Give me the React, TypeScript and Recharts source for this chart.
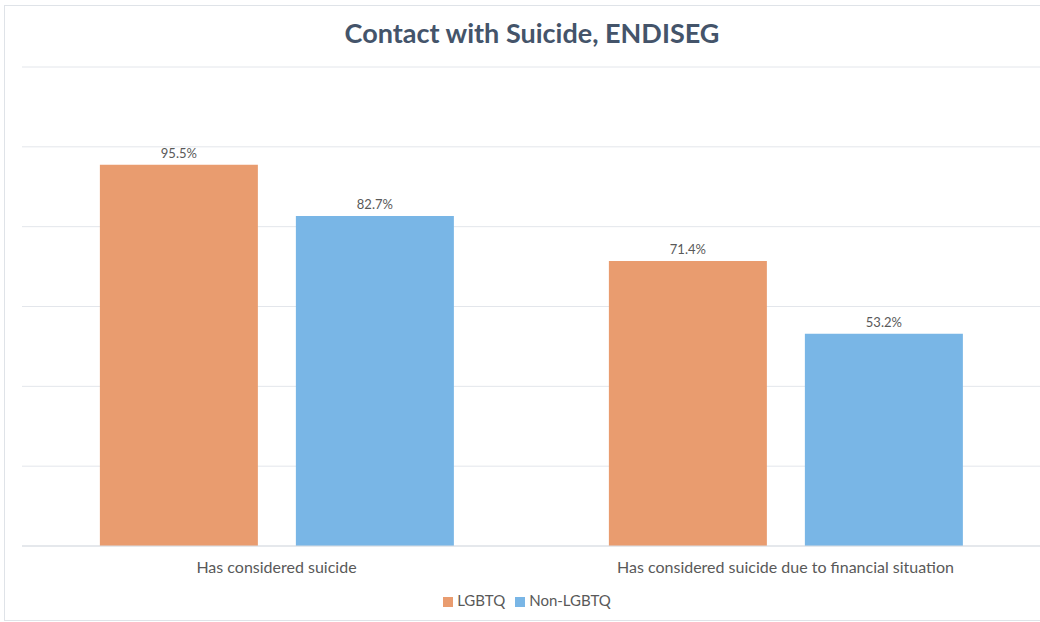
import { BarChart, Bar, XAxis, YAxis, CartesianGrid, Legend, LabelList } from "recharts";

const categories = ["Has considered suicide", "Has considered suicide due to financial situation"];
const lgbtq = [95.5, 71.4];
const nonLgbtq = [82.7, 53.2];
const yTicks = [0, 20, 40, 60, 80, 100, 120];

const data = categories.map((name, i) => ({ name, lgbtq: lgbtq[i], nonLgbtq: nonLgbtq[i] }));

const FONT = "Lato, 'Open Sans', sans-serif";

export default function App() {
  return (
    <div style={{ position: "absolute", left: 0, top: 0, width: 1040, height: 622, background: "#fff", fontFamily: FONT }}>
      <div
        style={{
          position: "absolute",
          left: 4,
          top: 5,
          width: 1060,
          height: 614,
          border: "1px solid #dfe3e8",
        }}
      />
      <div
        style={{
          position: "absolute",
          left: 0,
          top: 16,
          width: 1064,
          textAlign: "center",
          fontSize: 27,
          fontWeight: 700,
          color: "#44546a",
        }}
      >
        Contact with Suicide, ENDISEG
      </div>
      <div style={{ position: "absolute", left: 0, top: 0 }}>
        <BarChart
          width={1040}
          height={622}
          data={data}
          margin={{ top: 67, right: 0, left: 22, bottom: 28 }}
          barCategoryGap="15.3%"
          barGap={38}
        >
          <CartesianGrid vertical={false} stroke="#e3e6eb" />
          <YAxis hide domain={[0, 120]} ticks={yTicks} />
          <XAxis
            dataKey="name"
            axisLine={{ stroke: "#d9dde3" }}
            tickLine={false}
            interval={0}
            height={30}
            tick={{ fill: "#595959", fontSize: 16, fontFamily: FONT, dy: 8 }}
          />
          <Legend
            verticalAlign="bottom"
            iconType="square"
            iconSize={10}
            wrapperStyle={{ fontSize: 15, fontFamily: FONT, top: 591, left: 0, width: 1064 }}
            formatter={(v: string) => <span style={{ color: "#595959" }}>{v}</span>}
          />
          <Bar dataKey="lgbtq" name="LGBTQ" fill="#e99c6f" isAnimationActive={false}>
            <LabelList dataKey="lgbtq" position="top" offset={7} formatter={(v: number) => `${v}%`} fill="#595959" fontSize={13} fontFamily={FONT} />
          </Bar>
          <Bar dataKey="nonLgbtq" name="Non-LGBTQ" fill="#79b6e6" isAnimationActive={false}>
            <LabelList dataKey="nonLgbtq" position="top" offset={7} formatter={(v: number) => `${v}%`} fill="#595959" fontSize={13} fontFamily={FONT} />
          </Bar>
        </BarChart>
      </div>
    </div>
  );
}
